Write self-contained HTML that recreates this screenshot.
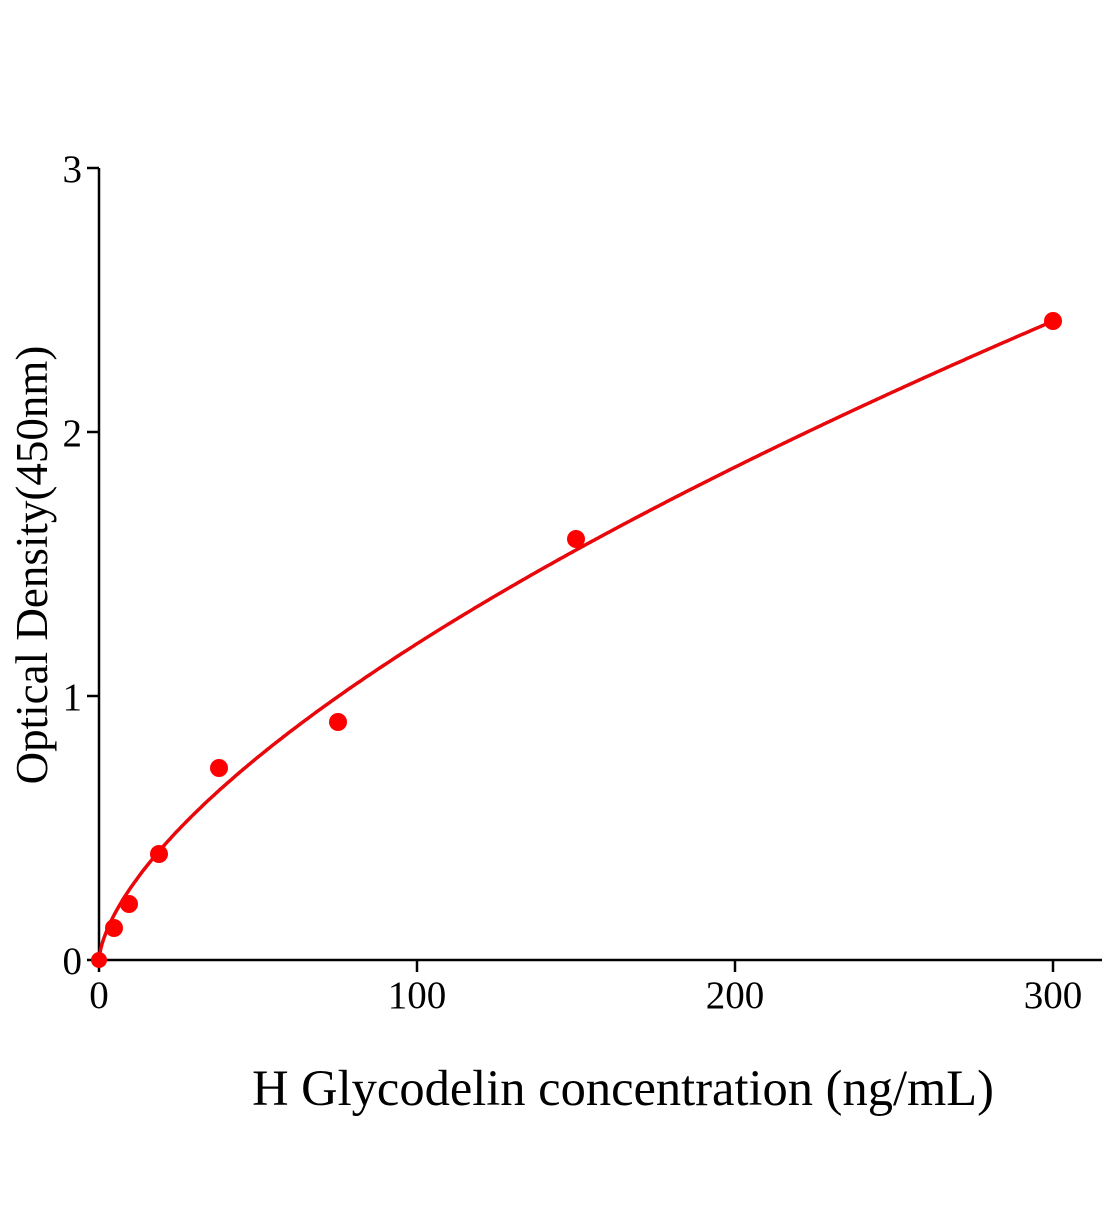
<!DOCTYPE html>
<html><head><style>html,body{margin:0;padding:0;background:#fff}</style></head>
<body>
<svg id="s" width="1104" height="1200" xmlns="http://www.w3.org/2000/svg" font-family="Liberation Serif, serif">
<rect width="1104" height="1200" fill="#fff"/>
<g stroke="#000" stroke-width="2.5" fill="none">
<line x1="99" y1="168" x2="99" y2="972"/>
<line x1="87" y1="960" x2="1102" y2="960"/>
<line x1="87" y1="168" x2="99" y2="168"/>
<line x1="87" y1="432" x2="99" y2="432"/>
<line x1="87" y1="696" x2="99" y2="696"/>
<line x1="417" y1="960" x2="417" y2="972"/>
<line x1="735" y1="960" x2="735" y2="972"/>
<line x1="1053" y1="960" x2="1053" y2="972"/>
</g>
<g font-size="39" fill="#000" text-anchor="end">
<text x="82" y="182">3</text>
<text x="82" y="446">2</text>
<text x="82" y="710">1</text>
<text x="82" y="974">0</text>
</g>
<g font-size="39" fill="#000" text-anchor="middle">
<text x="99" y="1008">0</text>
<text x="417" y="1008">100</text>
<text x="735" y="1008">200</text>
<text x="1053" y="1008">300</text>
</g>
<text x="623" y="1105" font-size="50.5" text-anchor="middle">H Glycodelin concentration (ng/mL)</text>
<text transform="translate(47,565) rotate(-90)" font-size="45" text-anchor="middle">Optical Density(450nm)</text>
<path id="c" fill="none" stroke="#e8070b" stroke-width="3.5"/>
<g fill="#f00">
<circle cx="99" cy="960" r="8"/>
<circle cx="114" cy="928" r="9"/>
<circle cx="129" cy="904" r="9"/>
<circle cx="159" cy="854" r="9"/>
<circle cx="219" cy="768" r="9"/>
<circle cx="338" cy="722" r="9"/>
<circle cx="576" cy="539" r="9"/>
<circle cx="1053" cy="321" r="9"/>
</g>
</svg>
<script>
var b=0.64,a=2.42/Math.pow(300,b),d="";
for(var i=0;i<=600;i++){var x=i*0.5,y=a*Math.pow(x,b);d+=(i?"L":"M")+(99+x*3.18).toFixed(1)+","+(960-y*264).toFixed(1);}
document.getElementById("c").setAttribute("d",d);
</script>
</body></html>
